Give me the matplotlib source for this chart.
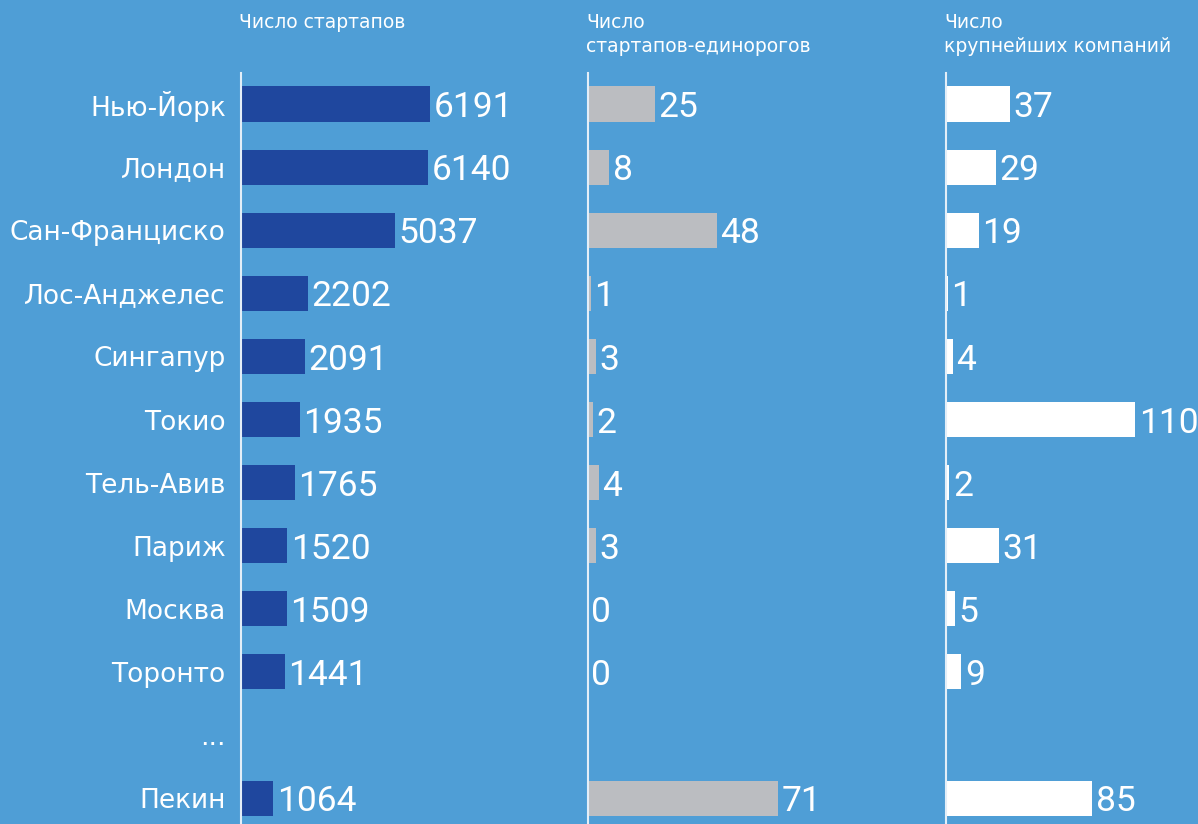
import matplotlib
matplotlib.use("Agg")
import matplotlib.pyplot as plt

### Data ###

cities = ["Нью-Йорк", "Лондон", "Сан-Франциско", "Лос-Анджелес", "Сингапур",
          "Токио", "Тель-Авив", "Париж", "Москва", "Торонто", "Пекин"]
startups = [6191, 6140, 5037, 2202, 2091, 1935, 1765, 1520, 1509, 1441, 1064]
unicorns = [25, 8, 48, 1, 3, 2, 4, 3, 0, 0, 71]
largest = [37, 29, 19, 1, 4, 110, 2, 31, 5, 9, 85]

titles = ["Число стартапов",
          "Число\nстартапов-единорогов",
          "Число\nкрупнейших компаний"]

### Style ###

plt.rcParams['font.family'] = ['Roboto', 'DejaVu Sans']
label_font = ['DejaVu Sans']
bg = '#4f9ed6'
bar_colors = ['#1f479e', '#bbbdc1', '#ffffff']
line_color = '#e3eef8'

W, H = 1198, 824
fig = plt.figure(figsize=(W / 100, H / 100), dpi=100)
fig.patch.set_facecolor(bg)

# rows: 10 cities, a gap row for "...", then the last city
rows = list(range(10)) + [11]
row0, step = 104, 63.1          # pixel centre of first row, row spacing
top_px, bottom_px = 73, 824
y_top = (top_px - row0) / step
y_bot = (bottom_px - row0) / step

# panel left edges (px), right edges (px), pixels per unit
panels = [(241, 585, 0.0305), (588, 943, 2.68), (946, 1198, 1.72)]
series = [startups, unicorns, largest]

for i, ((x0, x1, ppu), vals) in enumerate(zip(panels, series)):
    ax = fig.add_axes([x0 / W, 1 - bottom_px / H, (x1 - x0) / W, (bottom_px - top_px) / H])
    ax.set_facecolor('none')
    ax.barh(rows, vals, height=0.555, color=bar_colors[i], left=0)
    ax.set_xlim(0, (x1 - x0) / ppu)
    ax.set_ylim(y_bot, y_top)
    for r, v in zip(rows, vals):
        ax.annotate(str(v), (v, r), xytext=(2.5, -9.5), textcoords='offset points',
                    va='baseline', ha='left', fontsize=25.5, color='white',
                    annotation_clip=False)
    for s in ['top', 'right', 'bottom']:
        ax.spines[s].set_visible(False)
    ax.spines['left'].set_color(line_color)
    ax.spines['left'].set_linewidth(1.5)
    ax.set_xticks([])
    if i == 0:
        ax.set_yticks(list(range(12)))
        ax.set_yticklabels(cities[:10] + ["..."] + cities[10:], fontsize=19,
                           color='white', family=label_font)
        ax.tick_params(axis='y', length=0, pad=11)
    else:
        ax.set_yticks([])
    fig.text((x0 - 2) / W, 1 - 13 / H, titles[i], fontsize=13.5, color='white',
             ha='left', va='top', linespacing=1.35, family=label_font)

fig.savefig("out.png", dpi=100, facecolor=bg)
